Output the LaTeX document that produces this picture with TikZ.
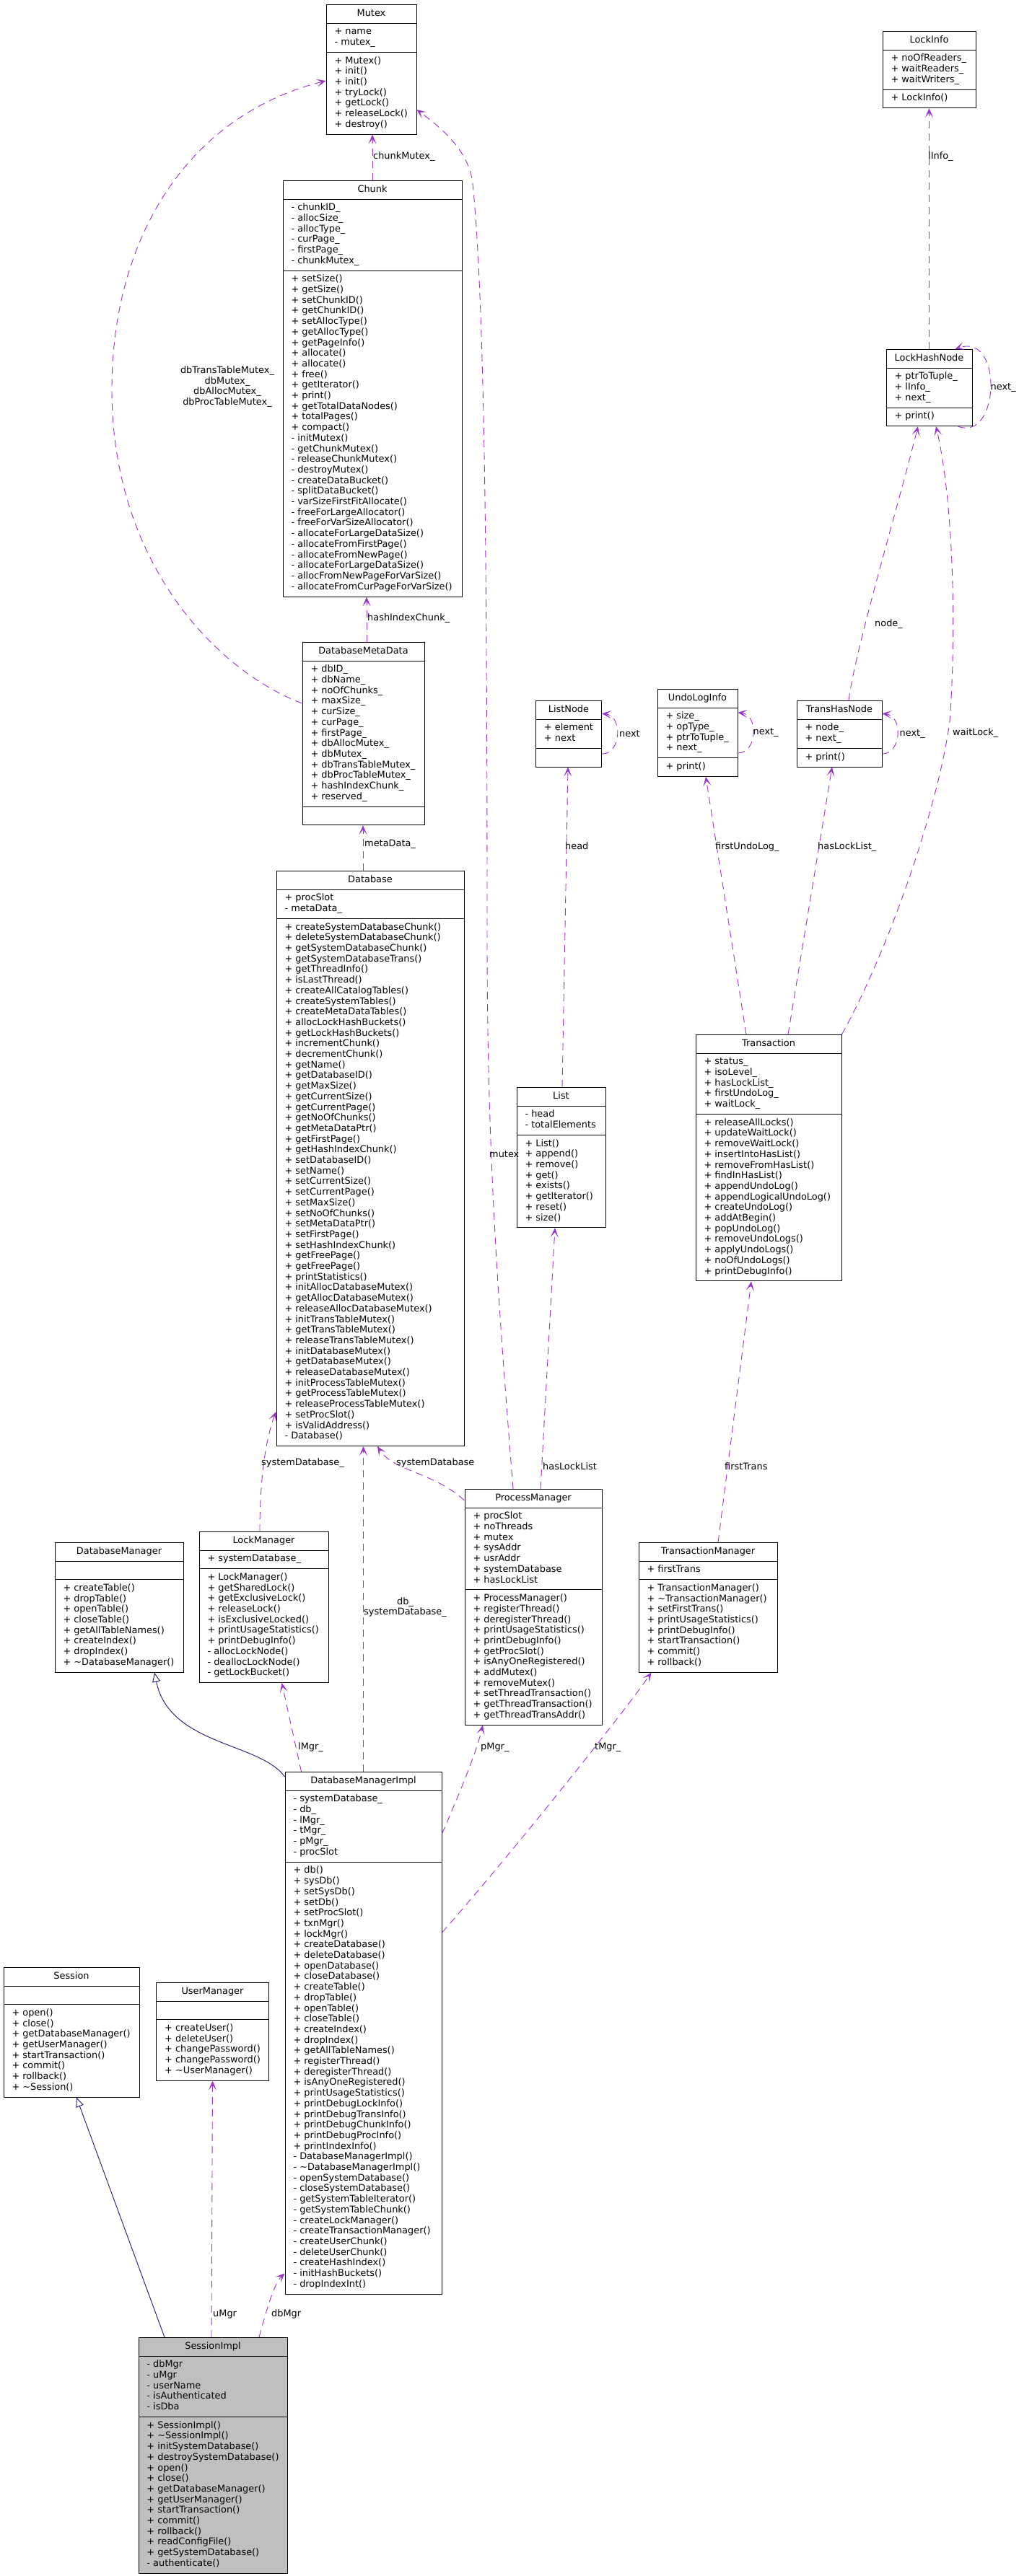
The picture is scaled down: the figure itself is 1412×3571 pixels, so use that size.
\documentclass[tikz,border=0pt]{standalone}
\usepackage{fontspec}
\newfontfamily\umlfont{DejaVu Sans}
\usetikzlibrary{shapes.multipart,arrows.meta,calc}
\definecolor{edgec}{HTML}{9A32CD}
\definecolor{inhc}{HTML}{191970}
\definecolor{selfill}{HTML}{BFBFBF}
\newcommand\umlsize{\fontsize{12.9pt}{14.7pt}\selectfont}
\newcommand\rows[1]{\begin{tabular}{@{}l@{}}#1\end{tabular}}
\newcommand\mkcls[8][]{\node[cls,minimum width=#5pt,#1] (#2) at (#3,#4) {\strut #6\nodepart{two}#7\nodepart{three}#8};}
\tikzset{
  cls/.style={draw=black, line width=0.9pt, fill=white, rectangle split, rectangle split parts=3,
    rectangle split part align={center,left,left}, inner xsep=11.5pt, inner ysep=5pt,
    font=\umlfont\umlsize, anchor=north, text=black},
  lab/.style={font=\umlfont\umlsize, inner sep=0pt, anchor=west, text=black},
  usedge/.style={draw=edgec, line width=0.9pt, dash pattern=on 10pt off 7pt,
    -{Stealth[length=13pt, width=11pt, inset=7pt]}},
  inh/.style={draw=inhc, line width=0.9pt, -{Triangle[open, length=13pt, width=11pt, fill=white]}}
}
\begin{document}
\begin{tikzpicture}[x=1pt,y=-1pt]
\useasboundingbox (0,0) rectangle (1412,3571);
\fill[white] (0,0) rectangle (1412,3571);

% ---------- classes ----------
\mkcls{mutex}{514.5}{6}{125}{Mutex}{\rows{+ name\\- mutex\_}}{\rows{+ Mutex()\\+ init()\\+ init()\\+ tryLock()\\+ getLock()\\+ releaseLock()\\+ destroy()}}
\mkcls{lockinfo}{1287.5}{43}{129}{LockInfo}{\rows{+ noOfReaders\_\\+ waitReaders\_\\+ waitWriters\_}}{\rows{+ LockInfo()}}
\mkcls{chunk}{516}{250}{248}{Chunk}{\rows{- chunkID\_\\- allocSize\_\\- allocType\_\\- curPage\_\\- firstPage\_\\- chunkMutex\_}}{\rows{+ setSize()\\+ getSize()\\+ setChunkID()\\+ getChunkID()\\+ setAllocType()\\+ getAllocType()\\+ getPageInfo()\\+ allocate()\\+ allocate()\\+ free()\\+ getIterator()\\+ print()\\+ getTotalDataNodes()\\+ totalPages()\\+ compact()\\- initMutex()\\- getChunkMutex()\\- releaseChunkMutex()\\- destroyMutex()\\- createDataBucket()\\- splitDataBucket()\\- varSizeFirstFitAllocate()\\- freeForLargeAllocator()\\- freeForVarSizeAllocator()\\- allocateForLargeDataSize()\\- allocateFromFirstPage()\\- allocateFromNewPage()\\- allocateForLargeDataSize()\\- allocFromNewPageForVarSize()\\- allocateFromCurPageForVarSize()}}
\mkcls{lhn}{1287.5}{484}{119}{LockHashNode}{\rows{+ ptrToTuple\_\\+ lInfo\_\\+ next\_}}{\rows{+ print()}}
\mkcls{dmd}{503.5}{890}{169}{DatabaseMetaData}{\rows{+ dbID\_\\+ dbName\_\\+ noOfChunks\_\\+ maxSize\_\\+ curSize\_\\+ curPage\_\\+ firstPage\_\\+ dbAllocMutex\_\\+ dbMutex\_\\+ dbTransTableMutex\_\\+ dbProcTableMutex\_\\+ hashIndexChunk\_\\+ reserved\_}}{\strut}
\mkcls{listnode}{788}{971}{90}{ListNode}{\rows{+ element\\+ next}}{\strut}
\mkcls{undolog}{966.5}{955}{111}{UndoLogInfo}{\rows{+ size\_\\+ opType\_\\+ ptrToTuple\_\\+ next\_}}{\rows{+ print()}}
\mkcls{thn}{1163}{971}{118}{TransHasNode}{\rows{+ node\_\\+ next\_}}{\rows{+ print()}}
\mkcls{database}{513}{1207}{260}{Database}{\rows{+ procSlot\\- metaData\_}}{\rows{+ createSystemDatabaseChunk()\\+ deleteSystemDatabaseChunk()\\+ getSystemDatabaseChunk()\\+ getSystemDatabaseTrans()\\+ getThreadInfo()\\+ isLastThread()\\+ createAllCatalogTables()\\+ createSystemTables()\\+ createMetaDataTables()\\+ allocLockHashBuckets()\\+ getLockHashBuckets()\\+ incrementChunk()\\+ decrementChunk()\\+ getName()\\+ getDatabaseID()\\+ getMaxSize()\\+ getCurrentSize()\\+ getCurrentPage()\\+ getNoOfChunks()\\+ getMetaDataPtr()\\+ getFirstPage()\\+ getHashIndexChunk()\\+ setDatabaseID()\\+ setName()\\+ setCurrentSize()\\+ setCurrentPage()\\+ setMaxSize()\\+ setNoOfChunks()\\+ setMetaDataPtr()\\+ setFirstPage()\\+ setHashIndexChunk()\\+ getFreePage()\\+ getFreePage()\\+ printStatistics()\\+ initAllocDatabaseMutex()\\+ getAllocDatabaseMutex()\\+ releaseAllocDatabaseMutex()\\+ initTransTableMutex()\\+ getTransTableMutex()\\+ releaseTransTableMutex()\\+ initDatabaseMutex()\\+ getDatabaseMutex()\\+ releaseDatabaseMutex()\\+ initProcessTableMutex()\\+ getProcessTableMutex()\\+ releaseProcessTableMutex()\\+ setProcSlot()\\+ isValidAddress()\\- Database()}}
\mkcls{list}{777.5}{1507}{123}{List}{\rows{- head\\- totalElements}}{\rows{+ List()\\+ append()\\+ remove()\\+ get()\\+ exists()\\+ getIterator()\\+ reset()\\+ size()}}
\mkcls{transaction}{1065}{1434}{202}{Transaction}{\rows{+ status\_\\+ isoLevel\_\\+ hasLockList\_\\+ firstUndoLog\_\\+ waitLock\_}}{\rows{+ releaseAllLocks()\\+ updateWaitLock()\\+ removeWaitLock()\\+ insertIntoHasList()\\+ removeFromHasList()\\+ findInHasList()\\+ appendUndoLog()\\+ appendLogicalUndoLog()\\+ createUndoLog()\\+ addAtBegin()\\+ popUndoLog()\\+ removeUndoLogs()\\+ applyUndoLogs()\\+ noOfUndoLogs()\\+ printDebugInfo()}}
\mkcls{dbmgr}{165}{2138}{178}{DatabaseManager}{\strut}{\rows{+ createTable()\\+ dropTable()\\+ openTable()\\+ closeTable()\\+ getAllTableNames()\\+ createIndex()\\+ dropIndex()\\+ \textasciitilde DatabaseManager()}}
\mkcls{lockmgr}{365.5}{2123}{179}{LockManager}{\rows{+ systemDatabase\_}}{\rows{+ LockManager()\\+ getSharedLock()\\+ getExclusiveLock()\\+ releaseLock()\\+ isExclusiveLocked()\\+ printUsageStatistics()\\+ printDebugInfo()\\- allocLockNode()\\- deallocLockNode()\\- getLockBucket()}}
\mkcls{pm}{739}{2064}{190}{ProcessManager}{\rows{+ procSlot\\+ noThreads\\+ mutex\\+ sysAddr\\+ usrAddr\\+ systemDatabase\\+ hasLockList}}{\rows{+ ProcessManager()\\+ registerThread()\\+ deregisterThread()\\+ printUsageStatistics()\\+ printDebugInfo()\\+ getProcSlot()\\+ isAnyOneRegistered()\\+ addMutex()\\+ removeMutex()\\+ setThreadTransaction()\\+ getThreadTransaction()\\+ getThreadTransAddr()}}
\mkcls{tm}{981}{2138}{192}{TransactionManager}{\rows{+ firstTrans}}{\rows{+ TransactionManager()\\+ \textasciitilde TransactionManager()\\+ setFirstTrans()\\+ printUsageStatistics()\\+ printDebugInfo()\\+ startTransaction()\\+ commit()\\+ rollback()}}
\mkcls{dmi}{503.5}{2456}{217}{DatabaseManagerImpl}{\rows{- systemDatabase\_\\- db\_\\- lMgr\_\\- tMgr\_\\- pMgr\_\\- procSlot}}{\rows{+ db()\\+ sysDb()\\+ setSysDb()\\+ setDb()\\+ setProcSlot()\\+ txnMgr()\\+ lockMgr()\\+ createDatabase()\\+ deleteDatabase()\\+ openDatabase()\\+ closeDatabase()\\+ createTable()\\+ dropTable()\\+ openTable()\\+ closeTable()\\+ createIndex()\\+ dropIndex()\\+ getAllTableNames()\\+ registerThread()\\+ deregisterThread()\\+ isAnyOneRegistered()\\+ printUsageStatistics()\\+ printDebugLockInfo()\\+ printDebugTransInfo()\\+ printDebugChunkInfo()\\+ printDebugProcInfo()\\+ printIndexInfo()\\- DatabaseManagerImpl()\\- \textasciitilde DatabaseManagerImpl()\\- openSystemDatabase()\\- closeSystemDatabase()\\- getSystemTableIterator()\\- getSystemTableChunk()\\- createLockManager()\\- createTransactionManager()\\- createUserChunk()\\- deleteUserChunk()\\- createHashIndex()\\- initHashBuckets()\\- dropIndexInt()}}
\mkcls{session}{99}{2727}{188}{Session}{\strut}{\rows{+ open()\\+ close()\\+ getDatabaseManager()\\+ getUserManager()\\+ startTransaction()\\+ commit()\\+ rollback()\\+ \textasciitilde Session()}}
\mkcls{usermgr}{294.5}{2748}{155}{UserManager}{\strut}{\rows{+ createUser()\\+ deleteUser()\\+ changePassword()\\+ changePassword()\\+ \textasciitilde UserManager()}}
\mkcls[fill=selfill]{sessimpl}{295}{3240}{206}{SessionImpl}{\rows{- dbMgr\\- uMgr\\- userName\\- isAuthenticated\\- isDba}}{\rows{+ SessionImpl()\\+ \textasciitilde SessionImpl()\\+ initSystemDatabase()\\+ destroySystemDatabase()\\+ open()\\+ close()\\+ getDatabaseManager()\\+ getUserManager()\\+ startTransaction()\\+ commit()\\+ rollback()\\+ readConfigFile()\\+ getSystemDatabase()\\- authenticate()}}

% ---------- connectors ----------
\draw[usedge] (chunk.north) -- ($(mutex.south)+(1.5,0)$);
\draw[usedge] ($(dmd.north west)+(0,85)$) .. controls (300,930) and (155,780) .. (155,540)
   .. controls (155,330) and (260,160) .. ($(mutex.north west)+(0,106)$);
\draw[usedge] ($(pm.north)+(-28,0)$) .. controls (690,1800) and (675,1600) .. (675,1300)
   .. controls (675,800) and (672,420) .. (655,255)
   .. controls (650,210) and (615,180) .. ($(mutex.north east)+(0,146)$);
\draw[usedge] ($(dmd.north)+(4.5,0)$) -- ($(chunk.south)+(-8,0)$);
\draw[usedge] ($(database.north)+(-10,0)$) -- ($(dmd.south)+(-0.5,0)$);
\draw[usedge] (lhn.north) -- (lockinfo.south);
\draw[usedge] ($(lhn.south east)+(-20,0)$) .. controls +(58,22) and +(67,-24) .. ($(lhn.north east)+(-24,0)$);
\draw[usedge] ($(thn.north)+(13,0)$) .. controls (1185,900) and (1245,700) .. ($(lhn.south)+(-15.5,0)$);
\draw[usedge] (transaction.north east) .. controls (1230,1320) and (1300,1120) .. (1316,1000)
   .. controls (1325,880) and (1322,700) .. ($(lhn.south)+(9.5,0)$);
\draw[usedge] ($(transaction.north)+(27,0)$) -- ($(thn.south)+(-10,0)$);
\draw[usedge] ($(transaction.north)+(-31,0)$) -- ($(undolog.south)+(11.5,0)$);
\draw[usedge] ($(listnode.east)+(0,28)$) .. controls +(27,0) and +(29,3) .. ($(listnode.east)+(0,-28)$);
\draw[usedge] ($(undolog.east)+(0,28)$) .. controls +(27,0) and +(29,3) .. ($(undolog.east)+(0,-28)$);
\draw[usedge] ($(thn.east)+(0,28)$) .. controls +(27,0) and +(29,3) .. ($(thn.east)+(0,-28)$);
\draw[usedge] ($(list.north)+(1.5,0)$) -- ($(listnode.south)+(-1,0)$);
\draw[usedge] ($(pm.north)+(10,0)$) -- ($(list.south)+(-8.5,0)$);
\draw[usedge] ($(tm.north)+(14,0)$) -- ($(transaction.south)+(-24,0)$);
\draw[usedge] ($(pm.north west)+(0,16)$) .. controls (600,2040) and (545,2040) .. ($(database.south)+(10,0)$);
\draw[usedge] ($(lockmgr.north)+(-5.5,0)$) .. controls (360,2040) and (370,1990) .. ($(database.south west)+(0,-48)$);
\draw[usedge] (dmi.north) -- (dmi.north |- database.south);
\draw[usedge] ($(dmi.north west)+(23,0)$) -- ($(lockmgr.south)+(25,0)$);
\draw[usedge] ($(dmi.north east)+(0,86)$) .. controls (635,2490) and (660,2430) .. ($(pm.south)+(-70,0)$);
\draw[usedge] ($(dmi.north east)+(0,223)$) .. controls (700,2580) and (860,2380) .. ($(tm.south west)+(18,0)$);
\draw[inh] ($(dmi.north west)+(0,7)$) .. controls (360,2415) and (235,2420) .. ($(dbmgr.south)+(49,0)$);
\draw[inh] ($(sessimpl.north)+(-67,0)$) -- ($(session.south)+(7,0)$);
\draw[usedge] ($(sessimpl.north)+(-2,0)$) -- (usermgr.south);
\draw[usedge] ($(sessimpl.north)+(64,0)$) .. controls (370,3200) and (380,3165) .. ($(dmi.south west)+(0,-29)$);

% ---------- labels ----------
\node[lab] (lchunkmutex) at (517,217) {chunkMutex\_};
\node[lab, align=center, anchor=center] (ldmdmutex) at (315,536) {dbTransTableMutex\_\\dbMutex\_\\dbAllocMutex\_\\dbProcTableMutex\_};
\node[lab] (lmutex) at (678,1600) {mutex};
\node[lab] (lhash) at (509,857) {hashIndexChunk\_};
\node[lab] (lmeta) at (505,1170) {metaData\_};
\node[lab] (linfo) at (1286,217) {lInfo\_};
\node[lab] (llhnnext) at ($(lhn.east)+(25,0)$) {next\_};
\node[lab] (lnode) at (1212,865) {node\_};
\node[lab] (lwait) at (1320,1016) {waitLock\_};
\node[lab] (lhasl) at (1133,1174) {hasLockList\_};
\node[lab] (lfirstu) at (991,1174) {firstUndoLog\_};
\node[lab] (llnnext) at ($(listnode.east)+(24,0)$) {next};
\node[lab] (lulnext) at ($(undolog.east)+(21,0)$) {next\_};
\node[lab] (lthnnext) at ($(thn.east)+(24,0)$) {next\_};
\node[lab] (lhead) at (783,1173) {head};
\node[lab] (lhaslock) at (752,2033) {hasLockList};
\node[lab] (lfirstt) at (1004,2033) {firstTrans};
\node[lab] (lsysdb) at (549,2028) {systemDatabase};
\node[lab] (lsysdbu) at (362,2028) {systemDatabase\_};
\node[lab, align=center] (ldb) at (504,2228) {db\_\\systemDatabase\_};
\node[lab] (llmgr) at (413,2422) {lMgr\_};
\node[lab] (lpmgr) at (666,2422) {pMgr\_};
\node[lab] (ltmgr) at (824,2422) {tMgr\_};
\node[lab] (lumgr) at (295,3208) {uMgr};
\node[lab] (ldbmgr) at (376,3208) {dbMgr};
\end{tikzpicture}
\end{document}
